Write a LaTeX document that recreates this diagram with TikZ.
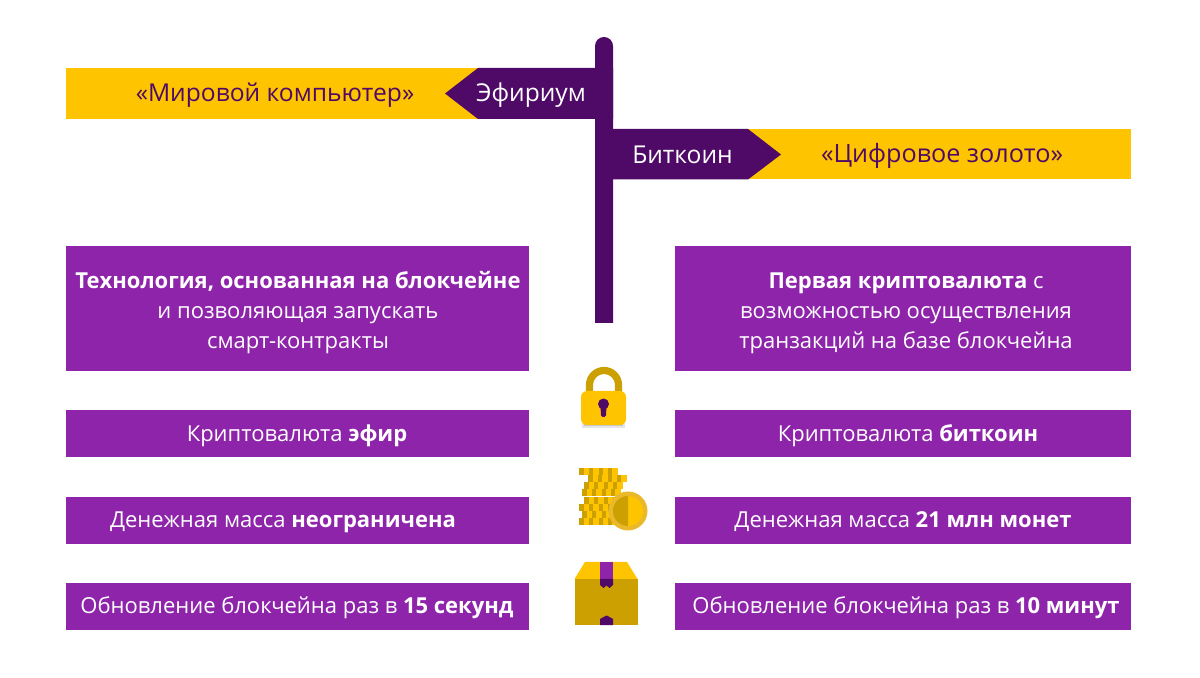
\documentclass[tikz,border=0pt]{standalone}
\usepackage{fontspec}
\setmainfont{Open Sans}
\definecolor{gold}{HTML}{FFC400}
\definecolor{golddark}{HTML}{CCA000}
\definecolor{goldring}{HTML}{E9B92B}
\definecolor{plum}{HTML}{4F0A67}
\definecolor{violetbox}{HTML}{8E24AA}
\tikzset{
  cardtext/.style={text=white,font=\fontsize{11}{15}\selectfont,align=center,inner sep=0pt},
  signtext/.style={text=plum,font=\fontsize{12.3}{15}\selectfont,inner sep=0pt},
  plumtext/.style={text=white,font=\fontsize{12.3}{15}\selectfont,inner sep=0pt},
}
\begin{document}
\begin{tikzpicture}[x=0.5pt,y=-0.5pt]
\useasboundingbox (0,0) rectangle (1200,678);
\fill[white] (0,0) rectangle (1200,678);
% signs
\fill[gold] (66,68) rectangle (490,119);
\fill[gold] (730,129) rectangle (1131,179.5);
\fill[plum] (613,68) -- (478,68) -- (445,93.5) -- (478,119) -- (613,119) -- cycle;
\fill[plum] (595,129) -- (748,129) -- (781,154.5) -- (748,179.5) -- (595,179.5) -- cycle;
\fill[plum] (595,323) -- (595,46) arc[start angle=180,end angle=360,radius=9] -- (613,323) -- cycle;
\node[signtext] (t1) at (275,95) {«Мировой компьютер»};
\node[signtext,font=\fontsize{12.6}{15}\selectfont] (t2) at (942,156) {«Цифровое золото»};
\node[plumtext] (t3) at (531,95) {Эфириум};
\node[plumtext] (t4) at (682.5,155) {Биткоин};
% boxes
\fill[violetbox] (66,246) rectangle (529,371);
\fill[violetbox] (675,246) rectangle (1131,371);
\fill[violetbox] (66,410) rectangle (529,457);
\fill[violetbox] (675,410) rectangle (1131,457);
\fill[violetbox] (66,497) rectangle (529,544);
\fill[violetbox] (675,497) rectangle (1131,544);
\fill[violetbox] (66,583) rectangle (529,630);
\fill[violetbox] (675,583) rectangle (1131,630);
\node[cardtext] (a1) at (298,313) {\textbf{Технология, основанная на блокчейне}\\и позволяющая запускать\\смарт-контракты};
\node[cardtext] (b1) at (906,313) {\textbf{Первая криптовалюта} с\\возможностью осуществления\\транзакций на базе блокчейна};
\node[cardtext] (a2) at (297,436) {Криптовалюта \textbf{эфир}};
\node[cardtext] (b2) at (908,436) {Криптовалюта \textbf{биткоин}};
\node[cardtext] (a3) at (283,522) {Денежная масса \textbf{неограничена}};
\node[cardtext] (b3) at (903,522) {Денежная масса \textbf{21 млн монет}};
\node[cardtext] (a4) at (297,608) {Обновление блокчейна раз в \textbf{15 секунд}};
\node[cardtext] (b4) at (906,608) {Обновление блокчейна раз в \textbf{10 минут}};
% lock
\fill[black!10] (582,400) rectangle (625,428);
\fill[black!22] (584,400) rectangle (623,426.5);
\draw[golddark,line width=3.6pt] (589.5,393) -- (589.5,385) arc[start angle=180,end angle=360,radius=14.5] -- (618.5,393);
\fill[gold,rounded corners=3pt] (581,391) rectangle (626,425);
\fill[plum] (603.5,404) circle[radius=5.5];
\fill[plum,rounded corners=0.8pt] (600.5,405) -- (606.5,405) -- (606,417) -- (601,417) -- cycle;
% coins
\foreach \yy/\xa/\xb in {468/579/617, 475/588/625, 482/584/622, 489/582/620, 497/584/622, 504/579/617, 511/582/620, 518/579/617}{
  \fill[golddark] (\xa,\yy) rectangle (\xb,\yy+7.2);
  \foreach \k in {0,1,2,3}{
    \fill[gold] (\xa+4.5+9.6*\k,\yy) rectangle (\xa+10+9.6*\k,\yy+7.2);
  }
}
\fill[goldring] (628,511) circle[radius=19.5];
\fill[gold] (628,496) arc[start angle=-90,end angle=90,radius=15] -- cycle;
\fill[golddark] (628,496) arc[start angle=-90,end angle=-270,radius=15] -- cycle;
% parcel
\fill[gold] (585,562) -- (627,562) -- (637.5,579) -- (574.5,579) -- cycle;
\fill[golddark] (574.5,579) rectangle (637.5,625);
\fill[violetbox] (600,562) rectangle (613,579);
\fill[plum] (600,579) -- (613,579) -- (613,585) -- (609.5,588) -- (606.5,585.5) -- (603.5,588) -- (600,585) -- cycle;
\fill[plum] (600,625) -- (613,625) -- (613,619) -- (609.5,617) -- (606.5,615.5) -- (603.5,617) -- (600,619) -- cycle;
\end{tikzpicture}
\end{document}
